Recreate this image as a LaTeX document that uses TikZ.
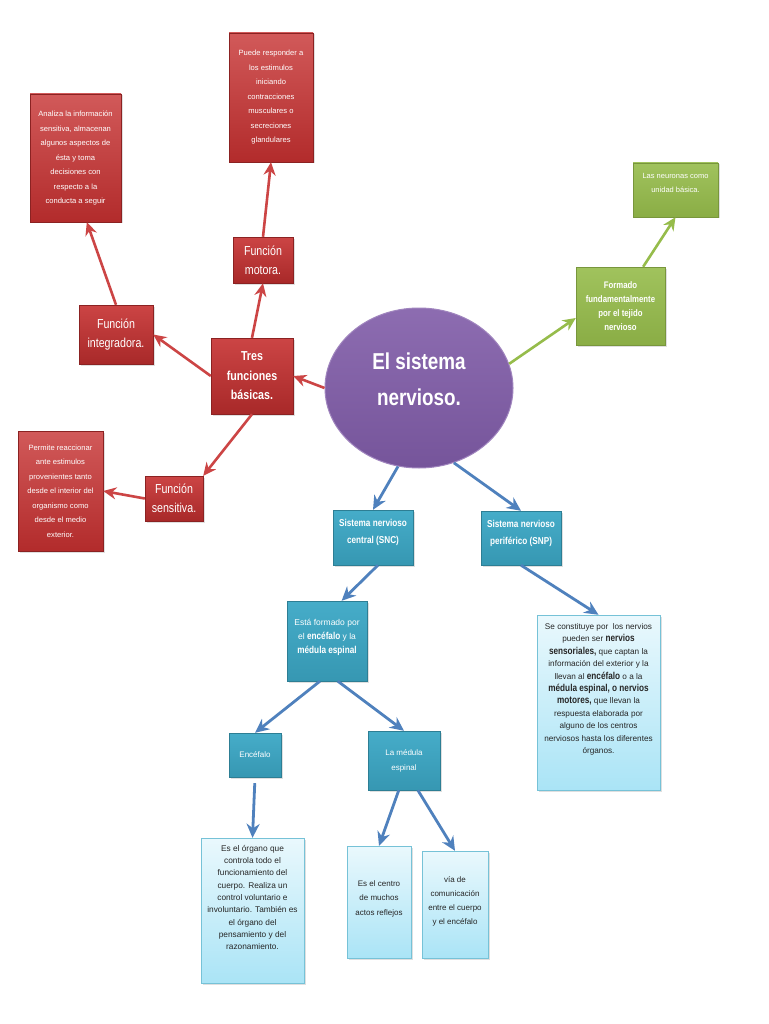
\documentclass[tikz,border=0pt]{standalone}
\usepackage{fontspec}
\setmainfont{Liberation Sans}
\newfontfamily\narrowfont{Liberation Sans}[FakeStretch=0.82]
\usepackage{xcolor}
\usetikzlibrary{shapes,arrows,arrows.meta,positioning,shadows}
\definecolor{mapred}{RGB}{198,48,48}
\definecolor{mappurple}{RGB}{128,92,168}
\definecolor{mapgreen}{RGB}{150,188,75}
\definecolor{mapblue}{RGB}{60,168,198}
\definecolor{mapsky}{RGB}{170,228,246}
\definecolor{maparrow}{RGB}{79,129,189}

\begin{document}
\begin{tikzpicture}[x=1pt, y=-1pt]
    \tikzstyle{box} = [rectangle, inner sep=0pt, align=center, drop shadow={opacity=0.25, shadow xshift=1.5pt, shadow yshift=-1.5pt}]
    \tikzstyle{redbox} = [box, draw=mapred!70!black, top color=mapred!90!white, bottom color=mapred!85!black, text=white]
    \tikzstyle{redhead} = [redbox, font=\narrowfont\fontsize{13}{19}\selectfont]
    \tikzstyle{rednote} = [redbox, top color=mapred!80!white, bottom color=mapred!90!black, font=\fontsize{7.6}{14.5}\selectfont]
    \tikzstyle{greenbox} = [box, draw=mapgreen!80!black, top color=mapgreen!90!white, bottom color=mapgreen!92!black, text=white]
    \tikzstyle{bluebox} = [box, draw=mapblue!75!black, top color=mapblue!95!white, bottom color=mapblue!90!black, text=white]
    \tikzstyle{bluehead} = [bluebox, font=\narrowfont\bfseries\fontsize{10}{17}\selectfont]
    \tikzstyle{bluenote} = [bluebox, font=\fontsize{8}{15}\selectfont]
    \tikzstyle{skybox} = [box, draw=mapblue!70, top color=mapsky!25!white, bottom color=mapsky, text=black!85]
    \tikzstyle{redarrow} = [line width=2.6pt, -{Stealth[length=13pt, width=12pt]}, mapred!90!white]
    \tikzstyle{greenarrow} = [line width=2.6pt, -{Stealth[length=13pt, width=12pt]}, mapgreen]
    \tikzstyle{bluearrow} = [line width=2.8pt, -{Stealth[length=14pt, width=13pt]}, maparrow]
    \newcommand{\hi}[1]{{\narrowfont\bfseries\fontsize{10}{12}\selectfont #1}}

    \fill[white] (0,0) rectangle (768,1024);

    % centre
    \node (sn) [ellipse, draw=mappurple!75!white, line width=1pt, top color=mappurple!90!white, bottom color=mappurple!92!black, text=white, align=center,
        minimum width=188pt, minimum height=160pt, text depth=18pt, font=\narrowfont\bfseries\fontsize{23}{36}\selectfont] at (419,388) {El sistema\\nervioso.};

    % funciones
    \node (tres) [redhead, font=\narrowfont\bfseries\fontsize{13}{19.5}\selectfont, minimum width=82pt, minimum height=76pt] at (252,376) {Tres\\funciones\\básicas.};
    \node (integ) [redhead, minimum width=74pt, minimum height=59pt] at (116,334.5) {Función\\integradora.};
    \node (motora) [redhead, minimum width=60pt, minimum height=46pt] at (263,260) {Función\\motora.};
    \node (sensitiva) [redhead, minimum width=58pt, minimum height=45pt] at (174,498.5) {Función\\sensitiva.};
    \node (analiza) [rednote, minimum width=91pt, minimum height=128pt] at (75.5,158) {Analiza la información\\sensitiva, almacenan\\algunos aspectos de\\ésta y toma\\decisiones con\\respecto a la\\conducta a seguir};
    \node (puede) [rednote, minimum width=84pt, minimum height=129pt] at (271,97.5) {Puede responder a\\los estimulos\\iniciando\\contracciones\\musculares o\\secreciones\\glandulares};
    \node (permite) [rednote, minimum width=85pt, minimum height=120pt] at (60.5,491) {Permite reaccionar\\ante estimulos\\provenientes tanto\\desde el interior del\\organismo como\\desde el medio\\exterior.};

    % tejido
    \node (formado) [greenbox, font=\narrowfont\bfseries\fontsize{9.5}{14}\selectfont, minimum width=89pt, minimum height=78pt] at (620.5,306) {Formado\\fundamentalmente\\por el tejido\\nervioso};
    \node (neuronas) [greenbox, font=\fontsize{7.5}{14}\selectfont, minimum width=85pt, minimum height=54pt, text depth=14pt] at (675.5,190) {Las neuronas como\\unidad básica.};

    % SNC y SNP
    \node (snc) [bluehead, minimum width=80pt, minimum height=55pt, text depth=12pt] at (373,537.5) {Sistema nervioso\\central (SNC)};
    \node (snp) [bluehead, minimum width=80pt, minimum height=54pt, text depth=12pt] at (521,538) {Sistema nervioso\\periférico (SNP)};
    \node (esta) [bluenote, font=\fontsize{8.5}{14}\selectfont, minimum width=80pt, minimum height=80pt, text depth=10pt] at (327,641) {Está formado por\\el \hi{encéfalo} y la\\\hi{médula espinal}};
    \node (encef) [bluenote, minimum width=52pt, minimum height=44pt] at (255,755) {Encéfalo};
    \node (medula) [bluenote, minimum width=72pt, minimum height=59pt] at (404,760.5) {La médula\\espinal};
    \node (secons) [skybox, font=\fontsize{8.2}{12.4}\selectfont, minimum width=123pt, minimum height=175pt, text depth=28pt] at (598.5,702.5) {Se constituye por\ \ los nervios\\pueden ser \hi{nervios}\\\hi{sensoriales,} que captan la\\información del exterior y la\\llevan al \hi{encéfalo} o a la\\\hi{médula espinal, o nervios}\\\hi{motores,} que llevan la\\respuesta elaborada por\\alguno de los centros\\nerviosos hasta los diferentes\\órganos.};
    \node (organo) [skybox, font=\fontsize{8.3}{12.3}\selectfont, minimum width=103pt, minimum height=145pt, text depth=26pt] at (252.5,910.5) {Es el órgano que\\controla todo el\\funcionamiento del\\cuerpo. Realiza un\\control voluntario e\\involuntario. También es\\el órgano del\\pensamiento y del\\razonamiento.};
    \node (centro) [skybox, font=\fontsize{8}{14.5}\selectfont, minimum width=64pt, minimum height=112pt, text depth=8pt] at (379,902) {Es el centro\\de muchos\\actos reflejos};
    \node (via) [skybox, font=\fontsize{8}{14}\selectfont, minimum width=66pt, minimum height=107pt, text depth=8pt] at (455,904.5) {vía de\\comunicación\\entre el cuerpo\\y el encéfalo};

    \draw [redarrow] (sn.west) -- (tres.east);
    \draw [redarrow] (tres.west) -- (integ.east);
    \draw [redarrow] (tres.north) -- (motora.south);
    \draw [redarrow] (tres.south) -- (sensitiva.north east);
    \draw [redarrow] (integ.north) -- (analiza.-80);
    \draw [redarrow] (motora.north) -- (puede.south);
    \draw [redarrow] (sensitiva.west) -- (permite.east);

    \draw [greenarrow] (sn.15) -- (formado.195);
    \draw [greenarrow] (formado.60) -- (neuronas.south);

    \draw [bluearrow] (sn.255) -- (snc.north);
    \draw [bluearrow] (sn.295) -- (snp.north);
    \draw [bluearrow] (snc.-80) -- (esta.70);
    \draw [bluearrow] (snp.south) -- (secons.north);
    \draw [bluearrow] (esta.-100) -- (encef.north);
    \draw [bluearrow] (esta.-75) -- (medula.north);
    \draw [bluearrow, shorten <=6pt] (encef.south) -- (organo.north);
    \draw [bluearrow] (medula.-100) -- (centro.north);
    \draw [bluearrow] (medula.-65) -- (via.north);
\end{tikzpicture}
\end{document}
